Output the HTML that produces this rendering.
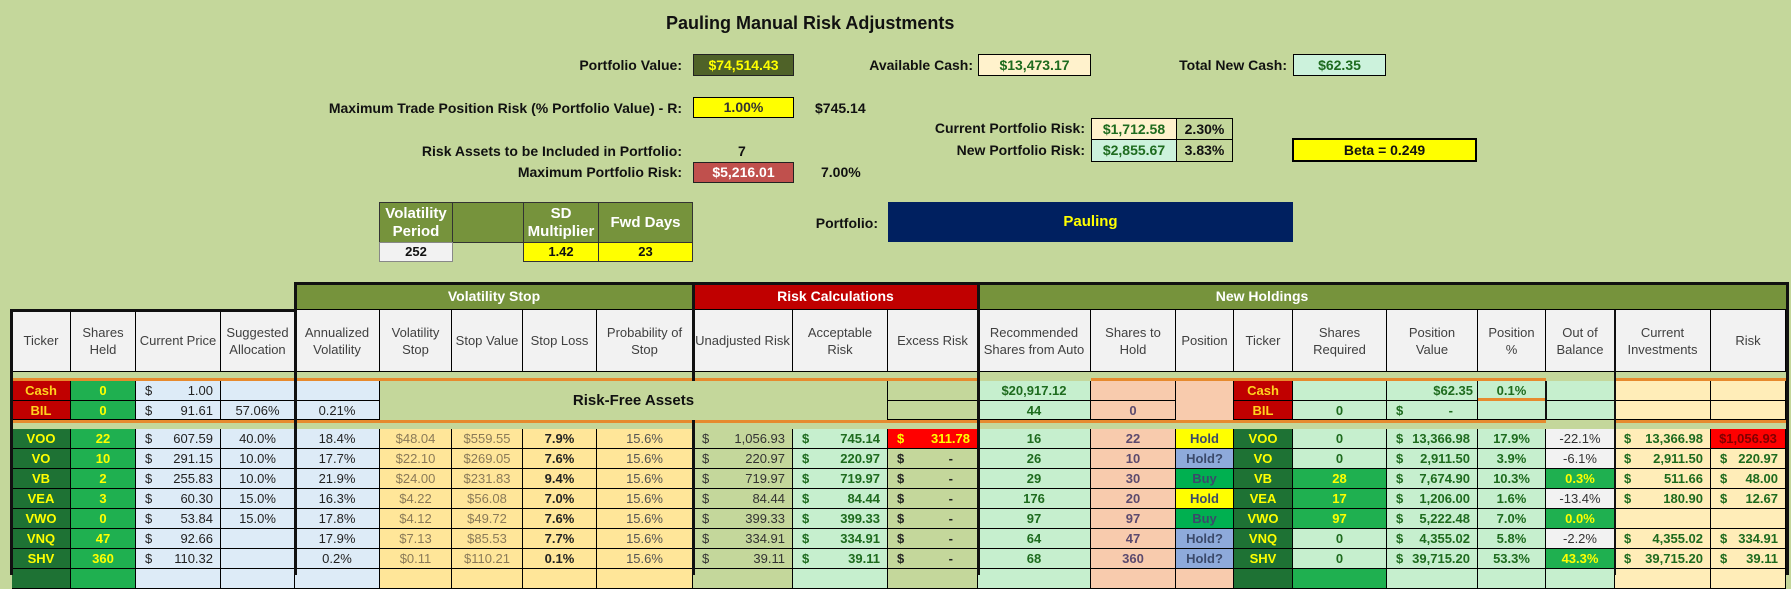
<!DOCTYPE html>
<html><head><meta charset="utf-8">
<style>
body{margin:0;width:1791px;height:575px;background:#c4d79b;position:relative;overflow:hidden;font-family:"Liberation Sans",Arial,sans-serif;}
.a{position:absolute;box-sizing:border-box;}
.lb1{position:absolute;font-weight:bold;font-size:14px;color:#111;white-space:nowrap;line-height:16px;}
.bx{position:absolute;box-sizing:border-box;border:1px solid #222;text-align:center;font-weight:bold;font-size:14px;white-space:nowrap;}
.r{position:absolute;left:12px;display:flex;height:20px;}
.r>div{flex:none;box-sizing:border-box;border-right:1px solid #000;border-bottom:1px solid #000;height:100%;font-size:13px;line-height:19px;text-align:center;white-space:nowrap;overflow:hidden;}
.hr>div{background:#f2f2f2;color:#404040;display:flex;align-items:center;justify-content:center;line-height:17px;white-space:nowrap;}
.r>div.d{display:flex;justify-content:space-between;padding:0 7px 0 9px;}
.r>div.dz{padding-right:24px;}
.r>div.sp{border:none;background:transparent;}
.w0{width:59px}.w1{width:65px}.w2{width:85px}.w3{width:74px}.w4{width:85px}.w5{width:72px}.w6{width:71px}.w7{width:74px}.w8{width:96px}.w9{width:100px}.w10{width:95px}.w11{width:90px}.w12{width:113px}.w13{width:85px}.w14{width:58px}.w15{width:59px}.w16{width:94px}.w17{width:91px}.w18{width:68px}.w19{width:69px}.w20{width:96px}.w21{width:75px}
.tr{background:#c00000;color:#ffd21f;font-weight:bold}
.tg{background:#1e7234;color:#ffff00;font-weight:bold}
.gg{background:#1fb050;color:#ffff00;font-weight:bold}
.lb{background:#ddebf7;color:#222}
.yo{background:#ffe699;color:#8a7a58}
.yb{background:#ffe699;color:#222;font-weight:bold}
.yp{background:#ffe699;color:#555}
.ol{background:#c4d79b;color:#333}
.ex{background:#c4d79b;color:#222;font-weight:bold}
.mt{background:#c6efce;color:#1e6b1e;font-weight:bold}
.rd{background:#ff0000;color:#ffff00;font-weight:bold}
.pc{background:#f8cbad;color:#5c4a6e;font-weight:bold}
.hy{background:#ffff00;color:#3b4a6b;font-weight:bold}
.hb{background:#8eaadb;color:#3b4a6b;font-weight:bold}
.hg{background:#00b050;color:#3b4a6b;font-weight:bold}
.wt{background:#f2f2f2;color:#333}
.cr{background:#ffedb8;color:#1e6b1e;font-weight:bold}
.rr{background:#ff0000;color:#7f0000;font-weight:bold}
.gh{color:#fff;font-weight:bold;font-size:14px;line-height:26px;text-align:center;border-bottom:1px solid #000;}
.bl{background:#111;}
.or{background:#e68a2e;}
.st{position:absolute;box-sizing:border-box;border:1px solid #333;text-align:center;font-weight:bold;}
</style></head><body>

<div class="a" style="left:666px;top:13px;font-size:18px;font-weight:bold;line-height:20px;white-space:nowrap;color:#111">Pauling Manual Risk Adjustments</div>

<div class="lb1" style="right:1109px;top:57px">Portfolio Value:</div>
<div class="bx" style="left:693px;top:54px;width:101px;height:22px;line-height:20px;background:#4f6228;color:#ffff00">$74,514.43</div>
<div class="lb1" style="right:818px;top:57px">Available Cash:</div>
<div class="bx" style="left:978px;top:54px;width:113px;height:22px;line-height:20px;background:#fff2cc;color:#1e6b1e;border-color:#000">$13,473.17</div>
<div class="lb1" style="right:504px;top:57px">Total New Cash:</div>
<div class="bx" style="left:1293px;top:54px;width:93px;height:22px;line-height:20px;background:#ccf2dc;color:#1e6b1e;border-color:#000">$62.35</div>

<div class="lb1" style="right:1109px;top:100px">Maximum Trade Position Risk (% Portfolio Value) - R:</div>
<div class="bx" style="left:693px;top:97px;width:101px;height:21px;line-height:19px;background:#ffff00;color:#333;border-color:#000">1.00%</div>
<div class="lb1" style="left:815px;top:100px">$745.14</div>

<div class="lb1" style="right:706px;top:120px">Current Portfolio Risk:</div>
<div class="bx" style="left:1091px;top:118px;width:86px;height:22px;line-height:20px;background:#fff2cc;color:#1e6b1e;border-color:#000">$1,712.58</div>
<div class="bx" style="left:1176px;top:118px;width:57px;height:22px;line-height:20px;background:#c4d79b;color:#111;border-color:#000">2.30%</div>
<div class="lb1" style="right:706px;top:142px">New Portfolio Risk:</div>
<div class="bx" style="left:1091px;top:139px;width:86px;height:23px;line-height:21px;background:#ccf2dc;color:#1e6b1e;border-color:#000">$2,855.67</div>
<div class="bx" style="left:1176px;top:139px;width:57px;height:23px;line-height:21px;background:#c4d79b;color:#111;border-color:#000">3.83%</div>
<div class="bx" style="left:1292px;top:138px;width:185px;height:24px;line-height:20px;background:#ffff00;color:#111;border:2px solid #000">Beta = 0.249</div>

<div class="lb1" style="right:1109px;top:143px">Risk Assets to be Included in Portfolio:</div>
<div class="lb1" style="left:738px;top:143px">7</div>
<div class="lb1" style="right:1109px;top:164px">Maximum Portfolio Risk:</div>
<div class="bx" style="left:693px;top:162px;width:101px;height:21px;line-height:19px;background:#c0504d;color:#fff">$5,216.01</div>
<div class="lb1" style="left:821px;top:164px">7.00%</div>

<div class="st" style="left:379px;top:202px;width:74px;height:41px;background:#76933c;color:#fff;font-size:15px;line-height:18px;padding-top:2px">Volatility<br>Period</div>
<div class="st" style="left:452px;top:202px;width:72px;height:41px;background:#76933c"></div>
<div class="st" style="left:523px;top:202px;width:76px;height:41px;background:#76933c;color:#fff;font-size:15px;line-height:18px;padding-top:2px">SD<br>Multiplier</div>
<div class="st" style="left:598px;top:202px;width:95px;height:41px;background:#76933c;color:#fff;font-size:15px;line-height:39px">Fwd Days</div>
<div class="st" style="left:379px;top:242px;width:74px;height:20px;background:#f2f2f2;color:#111;font-size:13px;line-height:18px;border-color:#888">252</div>
<div class="st" style="left:523px;top:242px;width:76px;height:20px;background:#ffff00;color:#111;font-size:13px;line-height:18px">1.42</div>
<div class="st" style="left:598px;top:242px;width:95px;height:20px;background:#ffff00;color:#111;font-size:13px;line-height:18px">23</div>

<div class="lb1" style="right:913px;top:215px">Portfolio:</div>
<div class="a" style="left:888px;top:202px;width:405px;height:40px;background:#002060;color:#ffff00;font-weight:bold;font-size:15px;line-height:40px;text-align:center">Pauling</div>

<!-- group header -->
<div class="a gh" style="left:295px;top:283px;width:398px;height:27px;background:#76933c">Volatility Stop</div>
<div class="a gh" style="left:693px;top:283px;width:285px;height:27px;background:#c00000">Risk Calculations</div>
<div class="a gh" style="left:978px;top:283px;width:808px;height:27px;background:#76933c"></div>
<div class="a gh" style="left:978px;top:283px;width:568px;height:27px;border:none">New Holdings</div>

<!-- column header -->
<div class="r hr" style="top:310px;height:62px">
<div class="w0">Ticker</div><div class="w1">Shares<br>Held</div><div class="w2">Current Price</div><div class="w3">Suggested<br>Allocation</div><div class="w4">Annualized<br>Volatility</div><div class="w5">Volatility<br>Stop</div><div class="w6">Stop Value</div><div class="w7">Stop Loss</div><div class="w8">Probability of<br>Stop</div><div class="w9">Unadjusted Risk</div><div class="w10">Acceptable<br>Risk</div><div class="w11">Excess Risk</div><div class="w12">Recommended<br>Shares from Auto</div><div class="w13">Shares to<br>Hold</div><div class="w14">Position</div><div class="w15">Ticker</div><div class="w16">Shares<br>Required</div><div class="w17">Position<br>Value</div><div class="w18">Position<br>%</div><div class="w19">Out of<br>Balance</div><div class="w20">Current<br>Investments</div><div class="w21">Risk</div>
</div>

<!-- Cash row -->
<div class="r" style="top:381px">
<div class="w0 tr">Cash</div><div class="w1 gg">0</div><div class="w2 lb d"><span>$</span><span>1.00</span></div><div class="w3 lb"></div><div class="w4 lb"></div>
<div class="sp" style="width:508px"></div>
<div class="w11 ol"></div><div class="w12 mt">$20,917.12</div><div class="w13 pc"></div>
<div class="sp w14"></div>
<div class="w15 tr">Cash</div><div class="w16 mt"></div><div class="w17 mt" style="text-align:right;padding-right:4px">$62.35</div><div class="w18 mt">0.1%</div><div class="w19 mt"></div><div class="w20 cr"></div><div class="w21 cr"></div>
</div>
<!-- BIL row -->
<div class="r" style="top:401px;height:19px">
<div class="w0 tr">BIL</div><div class="w1 gg">0</div><div class="w2 lb d"><span>$</span><span>91.61</span></div><div class="w3 lb">57.06%</div><div class="w4 lb">0.21%</div>
<div class="sp" style="width:508px"></div>
<div class="w11 ol"></div><div class="w12 mt">44</div><div class="w13 pc">0</div>
<div class="sp w14"></div>
<div class="w15 tr">BIL</div><div class="w16 mt">0</div><div class="w17 mt d dz"><span>$</span><span>-</span></div><div class="w18 mt"></div><div class="w19 mt"></div><div class="w20 cr"></div><div class="w21 cr"></div>
</div>
<div class="a" style="left:380px;top:381px;width:508px;height:39px;background:#c4d79b;border-right:1px solid #000;font-weight:bold;font-size:15px;line-height:39px;text-align:center;color:#111">Risk-Free Assets</div>
<div class="a" style="left:1176px;top:381px;width:58px;height:39px;background:#f8cbad;border-right:1px solid #000"></div>

<!-- data rows -->
<div class="r" style="top:429px">
<div class="w0 tg">VOO</div><div class="w1 gg">22</div><div class="w2 lb d"><span>$</span><span>607.59</span></div><div class="w3 lb">40.0%</div><div class="w4 lb">18.4%</div><div class="w5 yo">$48.04</div><div class="w6 yo">$559.55</div><div class="w7 yb">7.9%</div><div class="w8 yp">15.6%</div><div class="w9 ol d"><span>$</span><span>1,056.93</span></div><div class="w10 mt d"><span>$</span><span>745.14</span></div><div class="w11 rd d"><span>$</span><span>311.78</span></div><div class="w12 mt">16</div><div class="w13 pc">22</div><div class="w14 hy">Hold</div><div class="w15 tg">VOO</div><div class="w16 mt">0</div><div class="w17 mt d"><span>$</span><span>13,366.98</span></div><div class="w18 mt">17.9%</div><div class="w19 wt">-22.1%</div><div class="w20 cr d"><span>$</span><span>13,366.98</span></div><div class="w21 rr">$1,056.93</div>
</div>
<div class="r" style="top:449px">
<div class="w0 tg">VO</div><div class="w1 gg">10</div><div class="w2 lb d"><span>$</span><span>291.15</span></div><div class="w3 lb">10.0%</div><div class="w4 lb">17.7%</div><div class="w5 yo">$22.10</div><div class="w6 yo">$269.05</div><div class="w7 yb">7.6%</div><div class="w8 yp">15.6%</div><div class="w9 ol d"><span>$</span><span>220.97</span></div><div class="w10 mt d"><span>$</span><span>220.97</span></div><div class="w11 ex d dz"><span>$</span><span>-</span></div><div class="w12 mt">26</div><div class="w13 pc">10</div><div class="w14 hb">Hold?</div><div class="w15 tg">VO</div><div class="w16 mt">0</div><div class="w17 mt d"><span>$</span><span>2,911.50</span></div><div class="w18 mt">3.9%</div><div class="w19 wt">-6.1%</div><div class="w20 cr d"><span>$</span><span>2,911.50</span></div><div class="w21 cr d"><span>$</span><span>220.97</span></div>
</div>
<div class="r" style="top:469px">
<div class="w0 tg">VB</div><div class="w1 gg">2</div><div class="w2 lb d"><span>$</span><span>255.83</span></div><div class="w3 lb">10.0%</div><div class="w4 lb">21.9%</div><div class="w5 yo">$24.00</div><div class="w6 yo">$231.83</div><div class="w7 yb">9.4%</div><div class="w8 yp">15.6%</div><div class="w9 ol d"><span>$</span><span>719.97</span></div><div class="w10 mt d"><span>$</span><span>719.97</span></div><div class="w11 ex d dz"><span>$</span><span>-</span></div><div class="w12 mt">29</div><div class="w13 pc">30</div><div class="w14 hg">Buy</div><div class="w15 tg">VB</div><div class="w16 gg">28</div><div class="w17 mt d"><span>$</span><span>7,674.90</span></div><div class="w18 mt">10.3%</div><div class="w19 gg">0.3%</div><div class="w20 cr d"><span>$</span><span>511.66</span></div><div class="w21 cr d"><span>$</span><span>48.00</span></div>
</div>
<div class="r" style="top:489px">
<div class="w0 tg">VEA</div><div class="w1 gg">3</div><div class="w2 lb d"><span>$</span><span>60.30</span></div><div class="w3 lb">15.0%</div><div class="w4 lb">16.3%</div><div class="w5 yo">$4.22</div><div class="w6 yo">$56.08</div><div class="w7 yb">7.0%</div><div class="w8 yp">15.6%</div><div class="w9 ol d"><span>$</span><span>84.44</span></div><div class="w10 mt d"><span>$</span><span>84.44</span></div><div class="w11 ex d dz"><span>$</span><span>-</span></div><div class="w12 mt">176</div><div class="w13 pc">20</div><div class="w14 hy">Hold</div><div class="w15 tg">VEA</div><div class="w16 gg">17</div><div class="w17 mt d"><span>$</span><span>1,206.00</span></div><div class="w18 mt">1.6%</div><div class="w19 wt">-13.4%</div><div class="w20 cr d"><span>$</span><span>180.90</span></div><div class="w21 cr d"><span>$</span><span>12.67</span></div>
</div>
<div class="r" style="top:509px">
<div class="w0 tg">VWO</div><div class="w1 gg">0</div><div class="w2 lb d"><span>$</span><span>53.84</span></div><div class="w3 lb">15.0%</div><div class="w4 lb">17.8%</div><div class="w5 yo">$4.12</div><div class="w6 yo">$49.72</div><div class="w7 yb">7.6%</div><div class="w8 yp">15.6%</div><div class="w9 ol d"><span>$</span><span>399.33</span></div><div class="w10 mt d"><span>$</span><span>399.33</span></div><div class="w11 ex d dz"><span>$</span><span>-</span></div><div class="w12 mt">97</div><div class="w13 pc">97</div><div class="w14 hg">Buy</div><div class="w15 tg">VWO</div><div class="w16 gg">97</div><div class="w17 mt d"><span>$</span><span>5,222.48</span></div><div class="w18 mt">7.0%</div><div class="w19 gg">0.0%</div><div class="w20 cr"></div><div class="w21 cr"></div>
</div>
<div class="r" style="top:529px">
<div class="w0 tg">VNQ</div><div class="w1 gg">47</div><div class="w2 lb d"><span>$</span><span>92.66</span></div><div class="w3 lb"></div><div class="w4 lb">17.9%</div><div class="w5 yo">$7.13</div><div class="w6 yo">$85.53</div><div class="w7 yb">7.7%</div><div class="w8 yp">15.6%</div><div class="w9 ol d"><span>$</span><span>334.91</span></div><div class="w10 mt d"><span>$</span><span>334.91</span></div><div class="w11 ex d dz"><span>$</span><span>-</span></div><div class="w12 mt">64</div><div class="w13 pc">47</div><div class="w14 hb">Hold?</div><div class="w15 tg">VNQ</div><div class="w16 mt">0</div><div class="w17 mt d"><span>$</span><span>4,355.02</span></div><div class="w18 mt">5.8%</div><div class="w19 wt">-2.2%</div><div class="w20 cr d"><span>$</span><span>4,355.02</span></div><div class="w21 cr d"><span>$</span><span>334.91</span></div>
</div>
<div class="r" style="top:549px">
<div class="w0 tg">SHV</div><div class="w1 gg">360</div><div class="w2 lb d"><span>$</span><span>110.32</span></div><div class="w3 lb"></div><div class="w4 lb">0.2%</div><div class="w5 yo">$0.11</div><div class="w6 yo">$110.21</div><div class="w7 yb">0.1%</div><div class="w8 yp">15.6%</div><div class="w9 ol d"><span>$</span><span>39.11</span></div><div class="w10 mt d"><span>$</span><span>39.11</span></div><div class="w11 ex d dz"><span>$</span><span>-</span></div><div class="w12 mt">68</div><div class="w13 pc">360</div><div class="w14 hb">Hold?</div><div class="w15 tg">SHV</div><div class="w16 mt">0</div><div class="w17 mt d"><span>$</span><span>39,715.20</span></div><div class="w18 mt">53.3%</div><div class="w19 gg">43.3%</div><div class="w20 cr d"><span>$</span><span>39,715.20</span></div><div class="w21 cr d"><span>$</span><span>39.11</span></div>
</div>
<div class="r" style="top:569px">
<div class="w0 tg"></div><div class="w1 gg"></div><div class="w2 lb"></div><div class="w3 lb"></div><div class="w4 lb"></div><div class="w5 yo"></div><div class="w6 yo"></div><div class="w7 yb"></div><div class="w8 yp"></div><div class="w9 ol"></div><div class="w10 mt"></div><div class="w11 ol"></div><div class="w12 mt"></div><div class="w13 pc"></div><div class="w14 pc"></div><div class="w15 tg"></div><div class="w16 gg"></div><div class="w17 mt"></div><div class="w18 mt"></div><div class="w19 mt"></div><div class="w20 cr"></div><div class="w21 cr"></div>
</div>

<!-- orange lines -->
<div class="a or" style="left:12px;top:378px;width:966px;height:3px"></div>
<div class="a or" style="left:1091px;top:378px;width:455px;height:3px"></div>
<div class="a or" style="left:1615px;top:378px;width:171px;height:3px"></div>
<div class="a or" style="left:12px;top:420px;width:1534px;height:3px"></div>
<div class="a or" style="left:1615px;top:420px;width:171px;height:3px"></div>
<div class="a or" style="left:1478px;top:398px;width:68px;height:3px"></div>

<!-- thick borders -->
<div class="a bl" style="left:10px;top:309px;width:3px;height:266px"></div>
<div class="a bl" style="left:10px;top:309px;width:287px;height:3px"></div>
<div class="a bl" style="left:294px;top:282px;width:1495px;height:3px"></div>
<div class="a bl" style="left:294px;top:282px;width:3px;height:293px"></div>
<div class="a bl" style="left:692px;top:282px;width:3px;height:99px"></div>
<div class="a bl" style="left:692px;top:420px;width:3px;height:155px"></div>
<div class="a bl" style="left:977px;top:282px;width:3px;height:293px"></div>
<div class="a bl" style="left:1614px;top:310px;width:2px;height:265px"></div>
<div class="a bl" style="left:1545px;top:381px;width:2px;height:39px"></div>
<div class="a bl" style="left:1786px;top:282px;width:3px;height:293px"></div>
</body></html>
